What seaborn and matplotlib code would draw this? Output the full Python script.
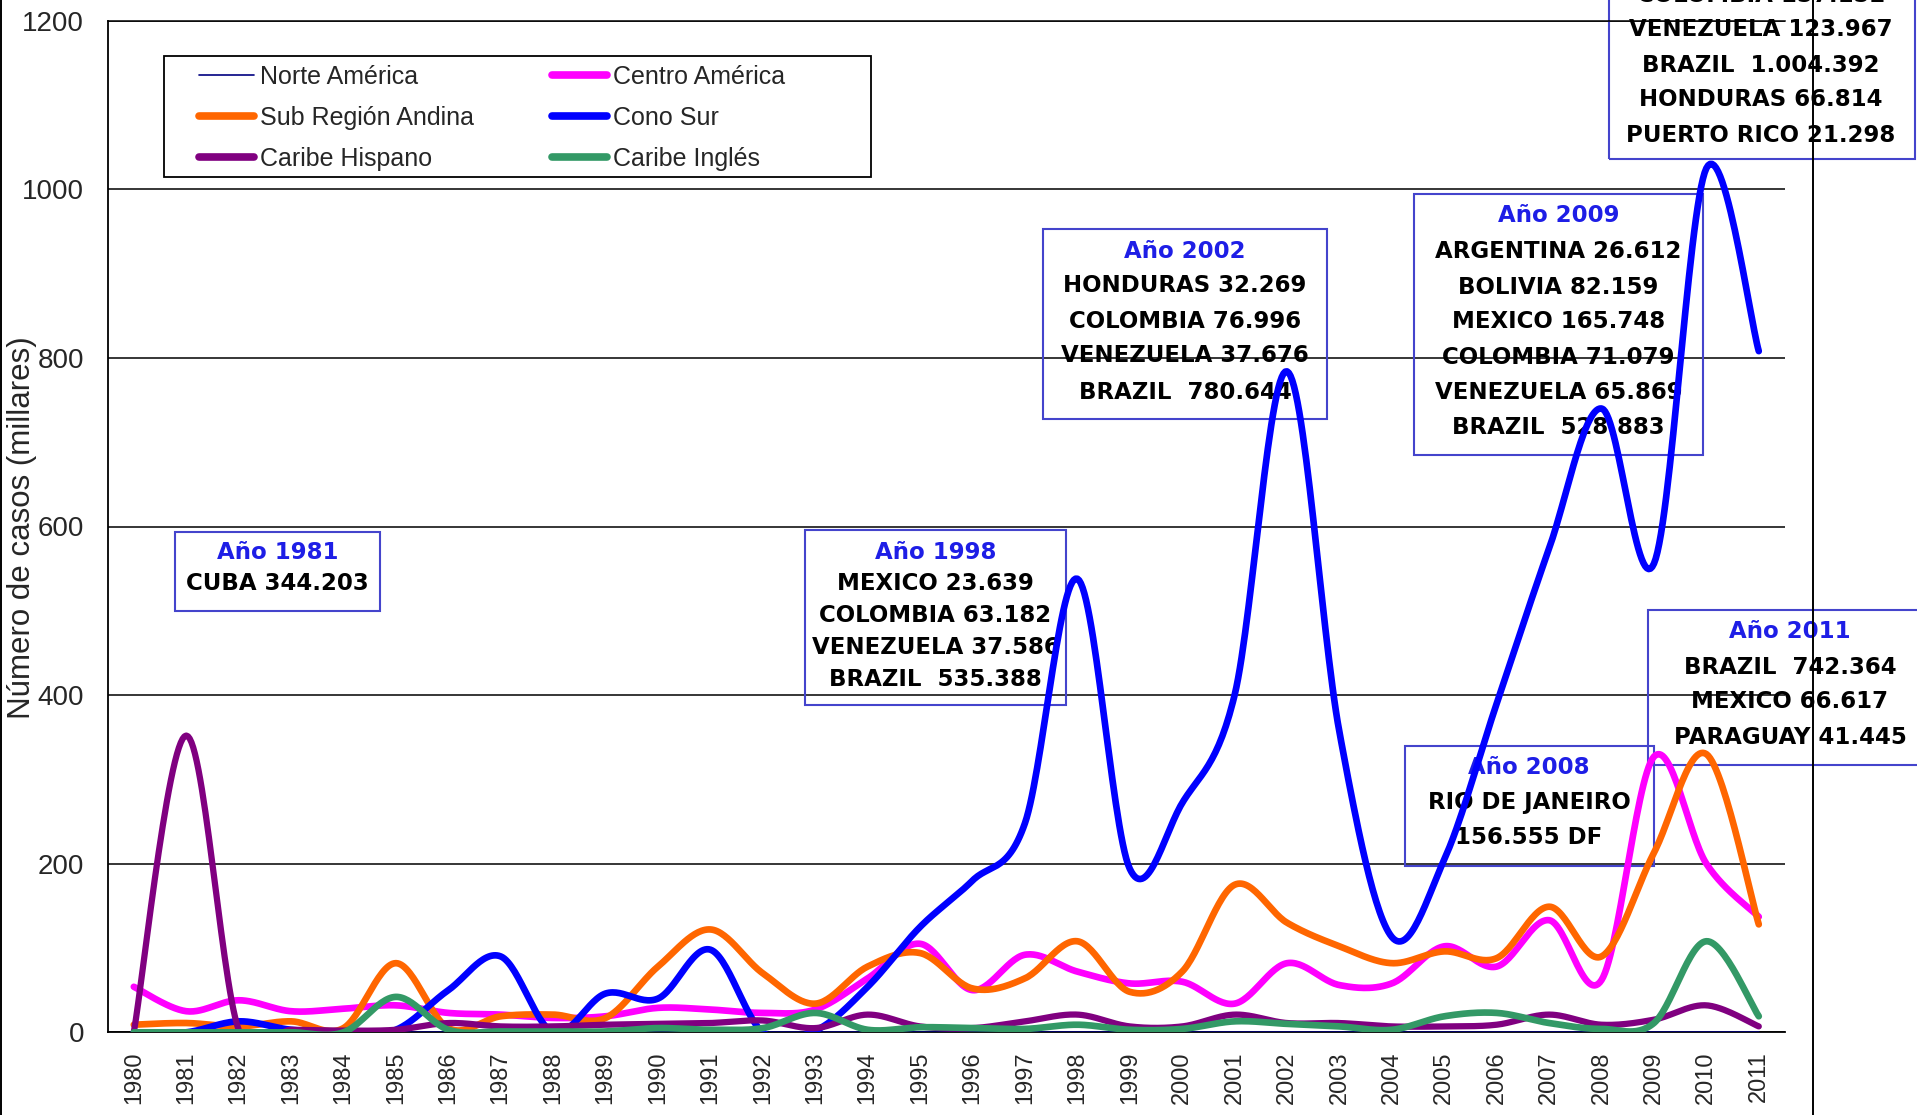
import numpy as np
import pandas as pd
import matplotlib
matplotlib.use("Agg")
import matplotlib.pyplot as plt
import seaborn as sns
from matplotlib.patches import Rectangle
from matplotlib.lines import Line2D

# ---------------- data (thousands of cases) ----------------
years = list(range(1980, 2012))
norte_america = [0.3, 0.2, 0.3, 0.2, 0.2, 0.3, 0.3, 0.2, 0.3, 0.3, 0.3, 0.3, 0.3, 0.3, 0.3, 0.4,
                 0.3, 0.3, 0.3, 0.3, 0.3, 0.3, 0.3, 0.3, 0.3, 0.3, 0.3, 0.3, 0.3, 0.3, 0.3, 0.3]
centro_america = [54, 25, 38, 25, 28, 32, 23, 21, 17, 19, 29, 27, 23, 27, 64, 105,
                  50, 92, 72, 58, 60, 34, 82, 56, 58, 102, 78, 133, 62, 327, 200, 137]
sub_region_andina = [9, 11, 7, 13, 5, 82, 5, 19, 21, 17, 78, 122, 70, 34, 78, 94,
                     52, 64, 108, 48, 72, 175, 130, 102, 82, 96, 88, 149, 90, 213, 330, 128]
cono_sur = [0, 0, 13, 3, 0, 3, 50, 90, 0, 46, 40, 98, 0, 2, 54, 125,
            180, 248, 538, 194, 272, 400, 784, 356, 113, 205, 390, 574, 740, 556, 1025, 808]
caribe_hispano = [0, 352, 3, 3, 2, 3, 11, 7, 7, 9, 10, 11, 14, 5, 21, 7,
                  5, 13, 21, 7, 7, 21, 11, 11, 7, 7, 9, 21, 9, 15, 32, 7]
caribe_ingles = [0, 0, 0, 0, 0, 42, 3, 1, 1, 1, 5, 3, 5, 23, 3, 6,
                 5, 4, 9, 3, 4, 13, 10, 7, 3, 19, 23, 11, 4, 11, 108, 19]

series_names = ["Norte América", "Centro América", "Sub Región Andina",
                "Cono Sur", "Caribe Hispano", "Caribe Inglés"]
series_values = [norte_america, centro_america, sub_region_andina,
                 cono_sur, caribe_hispano, caribe_ingles]
colors = {"Norte América": "#000080", "Centro América": "#FF00FF",
          "Sub Región Andina": "#FF6600", "Cono Sur": "#0000FF",
          "Caribe Hispano": "#800080", "Caribe Inglés": "#339966"}
widths = {"Norte América": 1.2, "Centro América": 4.8, "Sub Región Andina": 4.8,
          "Cono Sur": 4.8, "Caribe Hispano": 4.5, "Caribe Inglés": 4.8}

annotations = [
    ("Año 1981", ["CUBA 344.203"]),
    ("Año 1998", ["MEXICO 23.639", "COLOMBIA 63.182", "VENEZUELA 37.586", "BRAZIL  535.388"]),
    ("Año 2002", ["HONDURAS 32.269", "COLOMBIA 76.996", "VENEZUELA 37.676", "BRAZIL  780.644"]),
    ("Año 2009", ["ARGENTINA 26.612", "BOLIVIA 82.159", "MEXICO 165.748", "COLOMBIA 71.079",
                  "VENEZUELA 65.869", "BRAZIL  528.883"]),
    ("Año 2011", ["BRAZIL  742.364", "MEXICO 66.617", "PARAGUAY 41.445"]),
    ("Año 2008", ["RIO DE JANEIRO", "156.555 DF"]),
    (None, ["COLOMBIA 157.152", "VENEZUELA 123.967", "BRAZIL  1.004.392",
            "HONDURAS 66.814", "PUERTO RICO 21.298"]),
]


# Excel-style smoothed line (Bezier through every data point)
def smooth(xs, ys, n=30):
    P = np.column_stack([xs, ys]).astype(float)
    m = len(P)
    out = []
    for i in range(m - 1):
        p0 = P[max(i - 1, 0)]
        p1 = P[i]
        p2 = P[i + 1]
        p3 = P[min(i + 2, m - 1)]
        c1 = p1 + (p2 - p0) / 6.0
        c2 = p2 - (p3 - p1) / 6.0
        t = np.linspace(0, 1, n, endpoint=(i == m - 2))[:, None]
        seg = ((1 - t) ** 3) * p1 + 3 * ((1 - t) ** 2) * t * c1 + 3 * (1 - t) * t ** 2 * c2 + t ** 3 * p2
        out.append(seg)
    out = np.vstack(out)
    return out[:, 0], out[:, 1]


frames = []
for name, vals in zip(series_names, series_values):
    sx, sy = smooth(years, vals)
    frames.append(pd.DataFrame({"Año": sx, "Casos": sy, "Región": name}))
df = pd.concat(frames, ignore_index=True)

# ---------------- figure ----------------
W, H = 1917, 1115
sns.set_style("white")
plt.rcParams["font.family"] = ["Liberation Sans", "DejaVu Sans"]
fig = plt.figure(figsize=(W / 100, H / 100), dpi=100)
fig.patch.set_facecolor("white")


def fx(x):
    return x / W


def fy(y):
    return 1 - y / H


ax = fig.add_axes([fx(107.6), fy(1032.3), fx(1785) - fx(107.6), fy(20.7) - fy(1032.3)])
ax.set_facecolor("white")

sns.lineplot(data=df, x="Año", y="Casos", hue="Región", size="Región",
             hue_order=series_names, size_order=series_names,
             palette=colors, sizes=widths, estimator=None, sort=False,
             legend=False, ax=ax, zorder=3)
for ln in ax.lines:
    ln.set_solid_capstyle("round")
    ln.set_solid_joinstyle("round")

ax.set_xlim(1979.5, 2011.5)
ax.set_ylim(0, 1200)
ax.set_xticks(years)
ax.set_xticklabels([str(y) for y in years], rotation=90, fontsize=17)
ax.set_yticks(range(0, 1201, 200))
ax.set_yticklabels([str(v) for v in range(0, 1201, 200)], fontsize=20)
ax.tick_params(axis="x", length=0, pad=14)
ax.tick_params(axis="y", length=0, pad=17)
ax.set_xlabel("")
ax.set_ylabel("")
ax.yaxis.grid(True, color="black", lw=1.1)
ax.xaxis.grid(False)
ax.set_axisbelow(True)
for s in ["left", "bottom", "top"]:
    ax.spines[s].set_visible(True)
    ax.spines[s].set_color("black")
    ax.spines[s].set_linewidth(1.3)
ax.spines["top"].set_linewidth(1.1)
ax.spines["right"].set_visible(False)

fig.text(fx(22), fy(528), "Número de casos (millares)", rotation=90,
         ha="center", va="center", fontsize=22.5)

# ---------------- legend ----------------
leg_order = ["Norte América", "Sub Región Andina", "Caribe Hispano",
             "Centro América", "Cono Sur", "Caribe Inglés"]
handles = [Line2D([0], [0], color=colors[n], lw=(1.2 if n == "Norte América" else 5.5),
                  solid_capstyle="round") for n in leg_order]
leg = ax.legend(handles, leg_order, ncol=2, frameon=False, fontsize=18,
                loc="upper left", bbox_to_anchor=(fx(199), fy(65)),
                bbox_transform=fig.transFigure, borderpad=0, borderaxespad=0,
                handlelength=2.2, handletextpad=0.25, columnspacing=3.1,
                labelspacing=0.68)
leg.set_zorder(6)
ax.add_patch(Rectangle((fx(163.6), fy(177)), fx(871) - fx(163.6), fy(55.7) - fy(177),
                       transform=fig.transFigure, fill=False, edgecolor="black",
                       lw=1.3, clip_on=False, zorder=5))

# ---------------- annotation boxes ----------------
# (box left, top, right, bottom, text centre x, line y positions) in pixels
box_layout = [
    (175, 531.7, 380, 610.7, 277.5, [553, 583]),
    (805, 530, 1066, 705, 935.5, [552, 584, 616, 648, 679]),
    (1043, 229, 1327, 419, 1185, [252, 286, 321, 356, 392]),
    (1414, 194, 1703, 455, 1558.5, [215, 251, 287, 321, 357, 392, 427]),
    (1648, 610, 1932, 765, 1790, [632, 667, 702, 737]),
    (1405, 746, 1654, 866, 1529, [767, 803, 838]),
    (1609, -80, 1915, 159, 1761, [None, -4, 30, 65, 100, 136]),
]
for (title, lines), (l, t, r, b, cx, ys) in zip(annotations, box_layout):
    ax.add_patch(Rectangle((fx(l), fy(b)), fx(r) - fx(l), fy(t) - fy(b),
                           transform=fig.transFigure, fill=False, edgecolor="#4444CC",
                           lw=1.5, clip_on=False, zorder=1))
    if title is not None:
        ax.text(fx(cx), fy(ys[0]), title, transform=fig.transFigure, ha="center", va="center",
                fontsize=16.5, fontweight="bold", color="#1E1EE6", family="DejaVu Sans",
                clip_on=False, zorder=1)
    for txt, yy in zip(lines, ys[1:]):
        ax.text(fx(cx), fy(yy), txt, transform=fig.transFigure, ha="center", va="center",
                fontsize=16.5, fontweight="bold", color="black", family="DejaVu Sans",
                clip_on=False, zorder=1)

# chart-area border lines
ax.add_line(Line2D([fx(1812.5), fx(1812.5)], [0, 1], transform=fig.transFigure,
                   color="black", lw=1.4, clip_on=False, zorder=10))
ax.add_line(Line2D([fx(1), fx(1)], [0, 1], transform=fig.transFigure,
                   color="black", lw=1.4, clip_on=False, zorder=10))

fig.savefig("out.png", dpi=100)
